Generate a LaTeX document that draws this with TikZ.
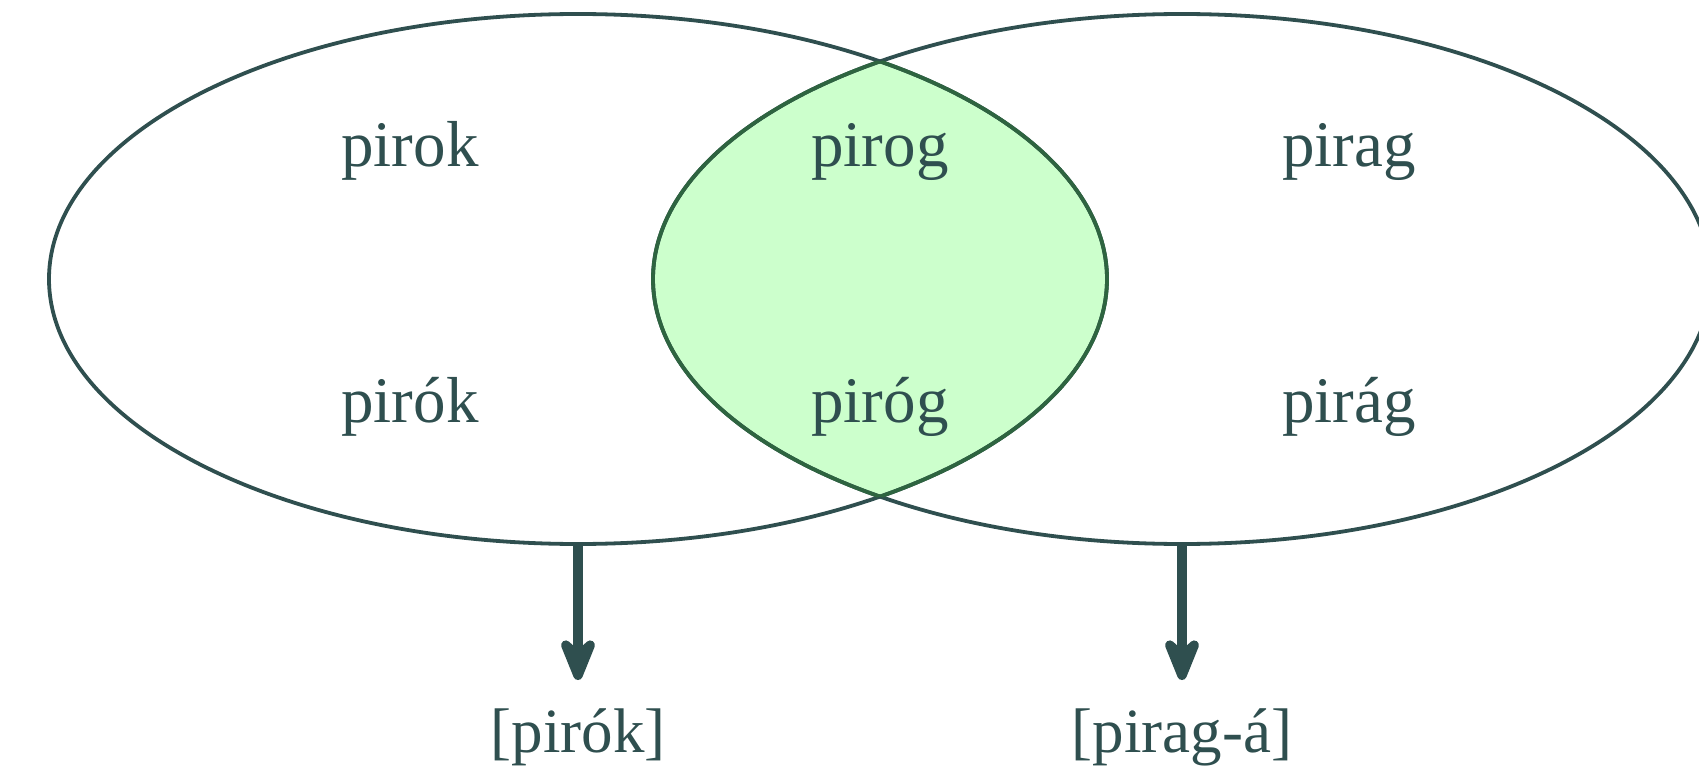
\documentclass[tikz,border=0pt]{standalone}
\usepackage{fontspec}
\setmainfont{Liberation Serif}
\usetikzlibrary{shapes.geometric,arrows.meta}
\definecolor{slate}{HTML}{2F4F4F}
\definecolor{lensfill}{HTML}{CCFFCC}
\definecolor{lensline}{HTML}{2E6440}
\tikzset{
  venn/.style={ellipse, draw=slate, line width=1.9pt, inner sep=0pt, outer sep=0pt,
    minimum width=529pt, minimum height=265pt},
  word/.style={text=slate, anchor=base, inner sep=0pt, font=\fontsize{32.5pt}{38pt}\selectfont},
  result/.style={text=slate, anchor=base, inner sep=0pt, font=\fontsize{31.5pt}{38pt}\selectfont},
  arr/.style={draw=slate, line width=5pt,
    -{Stealth[length=30pt, width=24pt, inset=11pt, round]}}
}
\begin{document}
\begin{tikzpicture}[x=0.5pt,y=-0.5pt]
\useasboundingbox (0,0) rectangle (1699,781);
% lens fill
\begin{scope}
  \clip (578,279) ellipse [x radius=529, y radius=265];
  \fill[lensfill] (1182,279) ellipse [x radius=529, y radius=265];
\end{scope}
% ellipses
\node[venn] (L) at (578,279) {};
\node[venn] (R) at (1182,279) {};
% lens border
\begin{scope}
  \clip (578,279) ellipse [x radius=529, y radius=265];
  \draw[lensline, line width=1.9pt] (1182,279) ellipse [x radius=529, y radius=265];
\end{scope}
\begin{scope}
  \clip (1182,279) ellipse [x radius=529, y radius=265];
  \draw[lensline, line width=1.9pt] (578,279) ellipse [x radius=529, y radius=265];
\end{scope}
% words
\node[word] (w1) at (410,167) {pirok};
\node[word] (w2) at (880,167) {pirog};
\node[word] (w3) at (1349,167) {pirag};
\node[word] (w4) at (410,422) {pirók};
\node[word] (w5) at (880,422) {piróg};
\node[word] (w6) at (1349,422) {pirág};
% arrows
\coordinate (tL) at (578,680);
\coordinate (tR) at (1182,680);
\draw[arr] (L.south) -- (tL);
\draw[arr] (R.south) -- (tR);
\node[result] (rL) at (578,752) {[pirók]};
\node[result] (rR) at (1182,752) {[pirag-á]};
\end{tikzpicture}
\end{document}
